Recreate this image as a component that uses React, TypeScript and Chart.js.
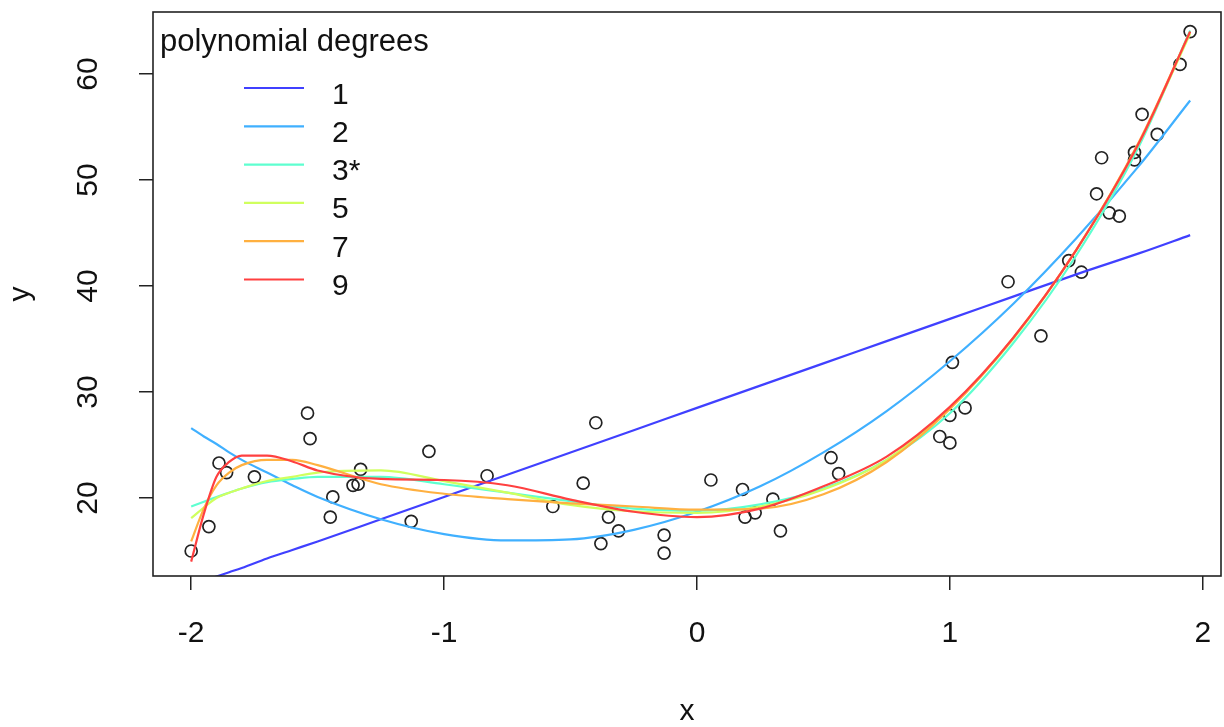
import React, { useEffect, useRef } from 'react';
import { Chart, registerables } from 'chart.js';

Chart.register(...registerables);

// observed points
const pointX = [-2.0, -1.93, -1.89, -1.86, -1.75, -1.54, -1.53, -1.44, -1.45, -1.36, -1.34, -1.33, -1.13, -1.06, -0.83, -0.57, -0.45, -0.40, -0.38, -0.35, -0.31, -0.13, -0.13, 0.055, 0.18, 0.19, 0.23, 0.30, 0.33, 0.53, 0.56, 0.96, 1.0, 1.0, 1.01, 1.06, 1.23, 1.36, 1.47, 1.52, 1.58, 1.60, 1.63, 1.67, 1.73, 1.73, 1.76, 1.82, 1.91, 1.95];
const pointY = [15.0, 17.3, 23.3, 22.4, 22.0, 28.0, 25.6, 20.1, 18.2, 21.2, 21.3, 22.7, 17.8, 24.4, 22.1, 19.2, 21.4, 27.1, 15.7, 18.2, 16.9, 16.5, 14.8, 21.7, 20.8, 18.2, 18.6, 19.9, 16.9, 23.8, 22.3, 25.8, 25.2, 27.8, 32.8, 28.5, 40.4, 35.3, 42.4, 41.3, 48.7, 52.1, 46.9, 46.6, 52.6, 51.9, 56.2, 54.3, 60.9, 64.0];

// fitted curves
const curveX = [-2, -1.95, -1.9, -1.85, -1.8, -1.7, -1.6, -1.5, -1.25, -1, -0.75, -0.5, -0.25, 0, 0.25, 0.5, 0.75, 1, 1.25, 1.5, 1.75, 1.95];
const deg1 = [11.8, 12.2, 12.6, 13.0, 13.4, 14.3, 15.1, 15.9, 18.0, 20.1, 22.2, 24.3, 26.4, 28.5, 30.6, 32.7, 34.8, 36.9, 39.0, 41.1, 43.1, 44.8];
const deg2 = [26.6, 25.8, 25.1, 24.3, 23.6, 22.4, 21.2, 20.1, 18.0, 16.6, 16.0, 16.1, 17.0, 18.7, 21.1, 24.3, 28.2, 32.9, 38.3, 44.5, 51.4, 57.5];
const deg3 = [19.2, 19.65, 20.1, 20.5, 20.9, 21.5, 21.8, 22.0, 22.0, 21.3, 20.5, 19.7, 19.0, 18.8, 19.4, 20.9, 23.6, 28.0, 34.6, 42.9, 53.3, 64.1];
const deg5 = [18.1, 19.1, 20.0, 20.5, 20.9, 21.6, 22.0, 22.4, 22.6, 21.6, 20.5, 19.35, 18.75, 18.6, 19.2, 20.8, 23.6, 28.5, 35.0, 43.4, 53.6, 63.8];
const deg7 = [15.9, 19.0, 21.2, 22.4, 23.1, 23.6, 23.6, 23.1, 21.3, 20.4, 19.9, 19.5, 19.2, 18.9, 19.0, 20.35, 23.4, 28.4, 35.1, 43.4, 53.7, 64.0];
const deg9 = [14.0, 18.5, 22.0, 23.4, 24.0, 24.0, 23.45, 22.6, 21.8, 21.7, 21.2, 19.85, 18.7, 18.2, 19.0, 21.1, 23.9, 28.6, 35.1, 43.4, 53.6, 64.0];

const seriesLabels = ['1', '2', '3*', '5', '7', '9'];
const seriesValues = [deg1, deg2, deg3, deg5, deg7, deg9];
const seriesColors = ['#4040ff', '#40b0ff', '#5effd0', '#d0ff5e', '#ffb040', '#ff4040'];
const legendTitle = 'polynomial degrees';

const xTicks = [-2, -1, 0, 1, 2];
const yTicks = [20, 30, 40, 50, 60];

const FONT = '"Liberation Sans", Arial, sans-serif';
const FS = 30;

const boxLegend = {
  id: 'boxLegend',
  afterDatasetsDraw(chart: any) {
    const { ctx, chartArea: a } = chart;
    ctx.save();
    ctx.strokeStyle = '#222';
    ctx.lineWidth = 1.6;
    ctx.strokeRect(a.left, a.top, a.right - a.left, a.bottom - a.top);
    ctx.fillStyle = '#111';
    ctx.textBaseline = 'alphabetic';
    ctx.textAlign = 'left';
    ctx.font = `31px ${FONT}`;
    ctx.fillText(legendTitle, a.left + 7, a.top + 39);
    ctx.font = `${FS}px ${FONT}`;
    seriesLabels.forEach((lab, i) => {
      const y = a.top + 76 + i * 38.3;
      ctx.strokeStyle = seriesColors[i];
      ctx.lineWidth = 2.2;
      ctx.beginPath();
      ctx.moveTo(a.left + 91, y);
      ctx.lineTo(a.left + 151, y);
      ctx.stroke();
      ctx.fillText(lab, a.left + 179, y + 15.5);
    });
    ctx.restore();
  },
};

const zeroPad = (s: any) => {
  s.paddingTop = 0;
  s.paddingBottom = 0;
  s.paddingLeft = 0;
  s.paddingRight = 0;
};

export default function App() {
  const ref = useRef<HTMLCanvasElement | null>(null);
  useEffect(() => {
    if (!ref.current) return;
    const curveSets = seriesValues.map((vals, i) => ({
      label: seriesLabels[i],
      data: curveX.map((x, j) => ({ x, y: vals[j] })),
      showLine: true,
      borderColor: seriesColors[i],
      backgroundColor: seriesColors[i],
      borderWidth: 2.2,
      pointRadius: 0,
      cubicInterpolationMode: 'monotone' as const,
      order: 5 - i,
    }));
    const chart = new Chart(ref.current, {
      type: 'scatter',
      data: {
        datasets: [
          {
            label: 'data',
            data: pointX.map((x, i) => ({ x, y: pointY[i] })),
            pointRadius: 6,
            pointBorderWidth: 1.7,
            pointBorderColor: '#222',
            pointBackgroundColor: 'rgba(0,0,0,0)',
            order: 10,
          },
          ...curveSets,
        ],
      },
      options: {
        responsive: false,
        animation: false,
        layout: { autoPadding: false, padding: { left: 0, top: 12, right: 3, bottom: 0 } },
        plugins: { legend: { display: false }, tooltip: { enabled: false } },
        scales: {
          x: {
            type: 'linear',
            min: -2.151,
            max: 2.072,
            afterBuildTicks: (s: any) => { s.ticks = xTicks.map((v) => ({ value: v })); },
            afterFit: (s: any) => { s.height = 151; zeroPad(s); },
            grid: { drawOnChartArea: false, drawTicks: true, tickLength: 14, color: '#222', lineWidth: 1.5 },
            border: { display: false },
            ticks: { color: '#111', font: { family: FONT, size: FS }, padding: 26, maxRotation: 0, autoSkip: false },
            title: { display: true, text: 'x', color: '#111', font: { family: FONT, size: FS, lineHeight: 1 }, padding: { top: 0, bottom: 0 } },
          },
          y: {
            type: 'linear',
            min: 12.642,
            max: 65.849,
            afterBuildTicks: (s: any) => { s.ticks = yTicks.map((v) => ({ value: v })); },
            afterFit: (s: any) => { s.width = 153; zeroPad(s); },
            grid: { drawOnChartArea: false, drawTicks: true, tickLength: 14, color: '#222', lineWidth: 1.5 },
            border: { display: false },
            ticks: { color: '#111', font: { family: FONT, size: FS }, padding: 34, minRotation: 90, maxRotation: 90, crossAlign: 'center', autoSkip: false },
            title: { display: true, text: 'y', color: '#111', font: { family: FONT, size: FS, lineHeight: 1 }, padding: { top: 6, bottom: 0 } },
          },
        },
      },
      plugins: [boxLegend],
    });
    return () => chart.destroy();
  }, []);
  return (
    <div style={{ position: 'fixed', left: 0, top: 0, width: 1224, height: 727, background: '#fff' }}>
      <canvas ref={ref} width={1224} height={727} style={{ display: 'block' }} />
    </div>
  );
}
